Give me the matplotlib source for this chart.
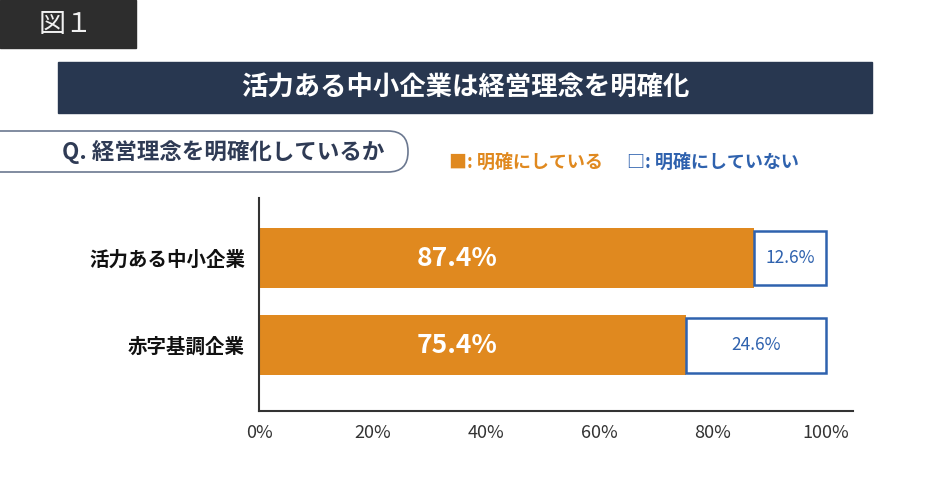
import matplotlib
matplotlib.use("Agg")
import matplotlib.pyplot as plt
from matplotlib.patches import Rectangle, FancyBboxPatch

plt.rcParams['font.family'] = ['Noto Sans CJK JP', 'DejaVu Sans']

# Datos
categorias = ['活力ある中小企業', '赤字基調企業']
si = [87.4, 75.4]
no = [12.6, 24.6]
ticks = [0, 20, 40, 60, 80, 100]

naranja = '#E0891F'
azul = '#2F62AE'
marino = '#283750'
gris = '#333333'

fig = plt.figure(figsize=(9.3, 4.86), dpi=100)

# Capa de fondo en coordenadas de pixel
bg = fig.add_axes([0, 0, 1, 1], zorder=0)
bg.set_xlim(0, 930)
bg.set_ylim(486, 0)
bg.axis('off')

bg.add_patch(Rectangle((0, 0), 136, 48, color='#2D2D2D'))
bg.text(66, 24, '図１', color='#F0F0F0', fontsize=19.5, ha='center', va='center')

bg.add_patch(Rectangle((58, 62), 814, 51, color=marino))
bg.text(465, 88, '活力ある中小企業は経営理念を明確化', color='white', fontsize=19,
        fontweight='bold', ha='center', va='center')

bg.add_patch(FancyBboxPatch((-40, 131), 448, 41, boxstyle='round,pad=0,rounding_size=20',
                            facecolor='white', edgecolor='#6B7890', linewidth=1.2))
bg.text(223, 152, 'Q. 経営理念を明確化しているか', color='#2F3B55', fontsize=16.2,
        fontweight='bold', ha='center', va='center')

bg.text(449, 162, '■: 明確にしている', color=naranja, fontsize=13,
        fontweight='bold', ha='left', va='center')
bg.text(627, 162, '□: 明確にしていない', color=azul, fontsize=13,
        fontweight='bold', ha='left', va='center')

# Grafico de barras
ax = fig.add_axes([259 / 930, 75 / 486, 594 / 930, 213 / 486], zorder=1)
ax.patch.set_alpha(0)
pos = list(range(len(categorias)))
ax.barh(pos, si, height=0.686, color=naranja, edgecolor='none')
ax.barh(pos, no, left=si, height=0.62, color='white', edgecolor=azul, linewidth=1.8)

for i in pos:
    ax.text(35, i, '{:.1f}%'.format(si[i]), color='white', fontsize=19,
            fontweight='bold', ha='center', va='center')
    ax.text(si[i] + no[i] / 2, i, '{:.1f}%'.format(no[i]), color=azul, fontsize=12.5,
            ha='center', va='center')

ax.set_xlim(0, 104.8)
ax.set_ylim(1.749, -0.686)
ax.set_yticks(pos)
ax.set_yticklabels(categorias, fontsize=14, fontweight='bold', color='#111111')
ax.set_xticks(ticks)
ax.set_xticklabels(['{}%'.format(t) for t in ticks], fontsize=13, color=gris)
ax.tick_params(axis='x', length=0, pad=9)
ax.tick_params(axis='y', length=0, pad=10)
for lado in ['top', 'right']:
    ax.spines[lado].set_visible(False)
for lado in ['left', 'bottom']:
    ax.spines[lado].set_color(gris)
    ax.spines[lado].set_linewidth(1.5)

fig.savefig('out.png', dpi=100)
